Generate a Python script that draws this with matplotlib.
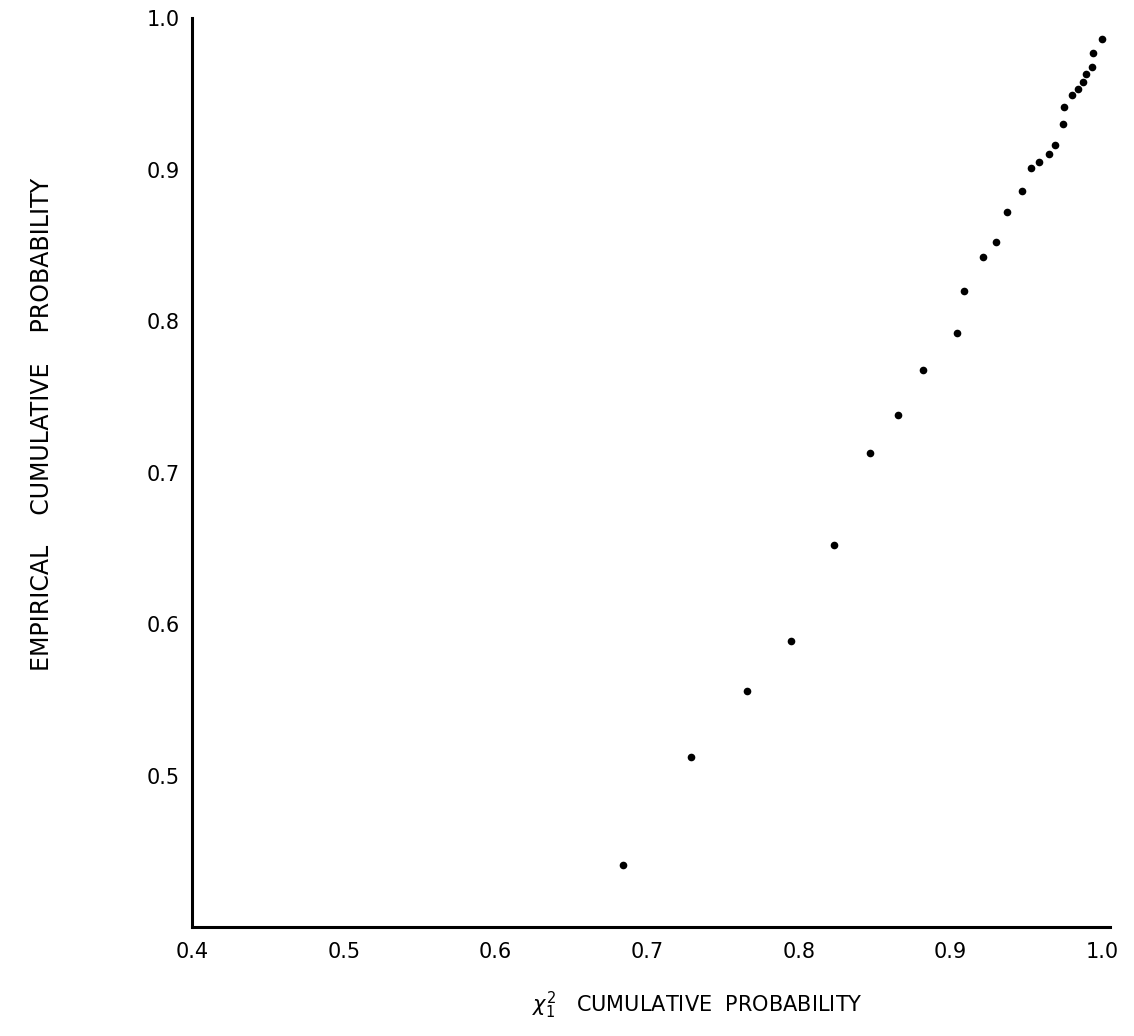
import matplotlib.pyplot as plt
import numpy as np

# chi-square(1) cumulative probability vs empirical cumulative probability
chi2_cdf = [0.684, 0.729, 0.766, 0.795, 0.823, 0.847, 0.865, 0.882, 0.904, 0.909,
            0.921, 0.930, 0.937, 0.947, 0.953, 0.958, 0.965, 0.969, 0.974, 0.975,
            0.980, 0.984, 0.987, 0.989, 0.993, 0.994, 1.000]
empirical_cdf = [0.441, 0.512, 0.556, 0.589, 0.652, 0.713, 0.738, 0.768, 0.792, 0.820,
                 0.842, 0.852, 0.872, 0.886, 0.901, 0.905, 0.910, 0.916, 0.930, 0.941,
                 0.949, 0.953, 0.958, 0.963, 0.968, 0.977, 0.986]

x_ticks = [0.4, 0.5, 0.6, 0.7, 0.8, 0.9, 1.0]
y_ticks = [0.5, 0.6, 0.7, 0.8, 0.9, 1.0]
x_labels = ['0.4', '0.5', '0.6', '0.7', '0.8', '0.9', '1.0']
y_labels = ['0.5', '0.6', '0.7', '0.8', '0.9', '1.0']

fig = plt.figure(figsize=(11.34, 10.36), dpi=100)
ax = fig.add_axes([0.1693, 0.1052, 0.8095, 0.8774])

ax.plot(chi2_cdf, empirical_cdf, 'o', color='black', markersize=5.5, markeredgewidth=0)

ax.set_xlim(0.4, 1.005)
ax.set_ylim(0.4, 1.0)

for side in ['top', 'right']:
  ax.spines[side].set_visible(False)
for side in ['left', 'bottom']:
  ax.spines[side].set_linewidth(2.2)
  ax.spines[side].set_color('black')

ax.set_xticks(x_ticks)
ax.set_xticklabels(x_labels)
ax.set_yticks(y_ticks)
ax.set_yticklabels(y_labels)
ax.tick_params(length=0, labelsize=15, pad=9)
ax.tick_params(axis='x', pad=11)

fig.text(0.037, 0.59, 'EMPIRICAL    CUMULATIVE    PROBABILITY', rotation=90,
         ha='center', va='center', fontsize=17)
fig.text(0.615, 0.030, r'$\chi^2_1$   CUMULATIVE  PROBABILITY',
         ha='center', va='center', fontsize=15)

fig.savefig('out.png', dpi=100)
